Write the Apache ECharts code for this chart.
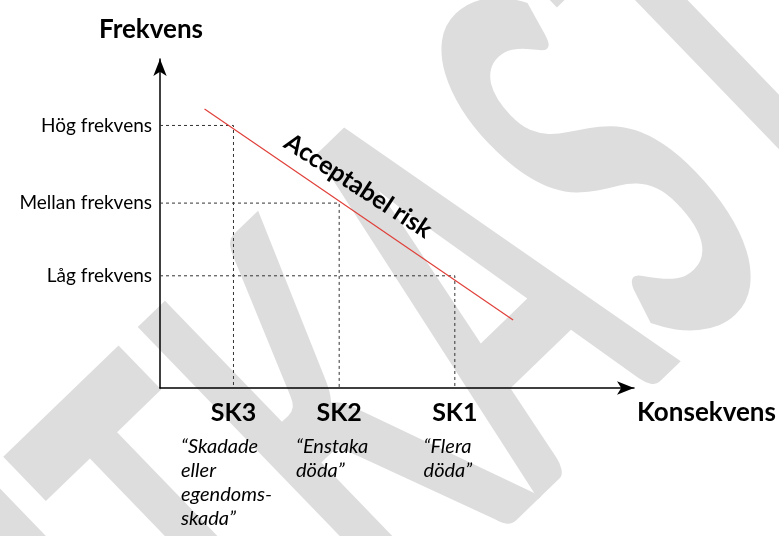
<!DOCTYPE html>
<html>
<head>
<meta charset="utf-8">
<script src="https://cdn.jsdelivr.net/npm/echarts@6/dist/echarts.min.js"></script>
<style>
    html, body { margin: 0; padding: 0; background: #fff; }
    #chart { width: 779px; height: 536px; }
</style>
</head>
<body>
<div id="chart"></div>
<script>
    // konsekvensklasser (x-axeln)
    var consCodes = ['SK3', 'SK2', 'SK1'];
    var consTexts = [
        ['“Skadade', 'eller', 'egendoms-', 'skada”'],
        ['“Enstaka', 'döda”'],
        ['“Flera', 'döda”']
    ];
    var consX = [15.5, 37.8, 62.2];

    // frekvensnivåer (y-axeln), samma ordning som konsekvensklasserna
    var freqLabels = ['Hög frekvens', 'Mellan frekvens', 'Låg frekvens'];
    var freqY = [79.8, 56.2, 34.1];

    // linjen för acceptabel risk
    var riskX = [9.4, 74.5];
    var riskY = [84.8, 20.7];

    var font = 'Lato, "Open Sans", sans-serif';

    var chart = echarts.init(document.getElementById('chart'));

    // streckade hjälplinjer: y-axel -> skärningspunkt -> x-axel
    var guideSeries = consX.map(function (x, i) {
        return {
            type: 'line',
            symbol: 'none',
            silent: true,
            data: [[0, freqY[i]], [x, freqY[i]], [x, 0]],
            lineStyle: {color: '#333', width: 1, type: [3, 3]},
            z: 3
        }
    });

    var option = {
        backgroundColor: '#fff',
        animation: false,
        textStyle: {fontFamily: font},
        grid: {
            left: 160,
            right: 145,
            top: 59,
            bottom: 148,
            containLabel: false,
            outerBoundsMode: 'none'
        },
        xAxis: {
            type: 'value',
            min: 0,
            max: 100,
            name: 'Konsekvens',
            nameLocation: 'end',
            nameGap: 3,
            nameTextStyle: {
                color: '#000',
                fontSize: 26,
                fontWeight: 'bold',
                fontFamily: font,
                align: 'left',
                verticalAlign: 'top',
                lineHeight: 50
            },
            axisLine: {
                symbol: ['none', 'arrow'],
                symbolSize: [10, 17],
                lineStyle: {color: '#000', width: 1.5}
            },
            axisTick: {show: false},
            splitLine: {show: false},
            axisLabel: {
                customValues: consX,
                margin: 3,
                color: '#000',
                formatter: function (v) {
                    var i = consX.indexOf(v);
                    var s = '{code|' + consCodes[i] + '}';
                    consTexts[i].forEach(function (t) {
                        s += '\n{desc|' + t + '}';
                    });
                    return s
                },
                rich: {
                    code: {
                        fontSize: 25,
                        fontWeight: 'bold',
                        fontFamily: font,
                        color: '#000',
                        lineHeight: 44,
                        align: 'center'
                    },
                    desc: {
                        fontSize: 20,
                        fontStyle: 'italic',
                        fontFamily: font,
                        color: '#000',
                        lineHeight: 24,
                        align: 'left',
                        padding: [0, 14, 0, 0]
                    }
                }
            }
        },
        yAxis: {
            type: 'value',
            min: 0,
            max: 100,
            name: 'Frekvens',
            nameLocation: 'end',
            nameGap: 16,
            nameTextStyle: {
                color: '#000',
                fontSize: 26,
                fontWeight: 'bold',
                fontFamily: font,
                align: 'center',
                padding: [0, 18, 0, 0]
            },
            axisLine: {
                show: true,
                symbol: ['none', 'arrow'],
                symbolSize: [10, 17],
                lineStyle: {color: '#000', width: 1.5}
            },
            axisTick: {show: false},
            splitLine: {show: false},
            axisLabel: {
                customValues: freqY,
                margin: 8,
                color: '#000',
                fontSize: 19,
                fontFamily: font,
                formatter: function (v) {
                    return freqLabels[freqY.indexOf(v)]
                }
            }
        },
        graphic: [
            {
                // vattenstämpel, utsträckt på höjden som i Word
                type: 'text',
                z: -10,
                silent: true,
                x: 396,
                y: 387,
                rotation: 0.768,
                scaleX: 2.81,
                scaleY: 5.56,
                style: {
                    text: 'UTKAST',
                    fill: '#dddddd',
                    font: 'bold 100px ' + font,
                    align: 'center',
                    verticalAlign: 'middle'
                }
            },
            {
                type: 'text',
                z: 10,
                x: 358,
                y: 186,
                rotation: -0.576,
                style: {
                    text: 'Acceptabel risk',
                    fill: '#000',
                    font: 'bold 25px ' + font,
                    align: 'center',
                    verticalAlign: 'middle'
                }
            }
        ],
        series: guideSeries.concat([
            {
                type: 'line',
                symbol: 'none',
                silent: true,
                data: riskX.map(function (x, i) {
                    return [x, riskY[i]]
                }),
                lineStyle: {color: '#e0403a', width: 1.2},
                z: 4
            }
        ])
    };

    chart.setOption(option);
</script>
</body>
</html>
